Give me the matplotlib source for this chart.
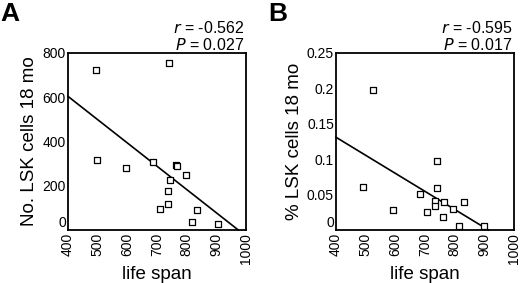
import matplotlib
matplotlib.use("Agg")
import matplotlib.pyplot as plt
import matplotlib.transforms as mtransforms
import numpy as np

plt.rcParams["font.family"] = ["Liberation Sans", "DejaVu Sans"]

# panel A: number of LSK cells at 18 mo vs life span
span_a = [494, 741, 498, 594, 688, 763, 768, 798, 744, 737, 738, 711, 836, 818, 904]
cells_a = [724, 753, 316, 282, 309, 292, 288, 250, 226, 178, 116, 95, 90, 36, 29]
fit_a_x = [400, 974]
fit_a_y = [604, 0]

# panel B: % LSK cells at 18 mo vs life span
span_b = [526, 491, 592, 683, 739, 740, 735, 735, 764, 707, 761, 796, 833, 813, 900]
pct_b = [0.198, 0.061, 0.028, 0.051, 0.098, 0.060, 0.041, 0.034, 0.040, 0.025,
         0.018, 0.030, 0.039, 0.006, 0.005]
fit_b_x = [400, 914]
fit_b_y = [0.131, 0]

xticks = [400, 500, 600, 700, 800, 900, 1000]

fig = plt.figure(figsize=(5.2, 2.83), dpi=100)
W, H = 520, 283


def panel(left, x, y, fx, fy, ylim, yticks, yticklabels, ylabel, letter, r, p):
    ax = fig.add_axes([left / W, 1 - 230 / H, 178 / W, 177 / H])
    ax.plot(fx, fy, color="black", lw=1.2, clip_on=False, zorder=2)
    ax.scatter(x, y, marker="s", s=22, facecolors="white", edgecolors="black",
               linewidths=0.9, zorder=3, clip_on=False)
    ax.set_xlim(400, 1000)
    ax.set_ylim(*ylim)
    ax.set_xticks(xticks)
    ax.set_xticklabels([str(t) for t in xticks], rotation=90, fontsize=10)
    ax.set_yticks(yticks)
    ax.set_yticklabels(yticklabels, fontsize=10)
    ax.tick_params(length=0)
    ax.tick_params(axis="x", pad=2)
    ax.tick_params(axis="y", pad=1.5)
    # lift the "0" a little so it does not sit on the "400"
    zero = ax.get_yticklabels()[0]
    zero.set_va("bottom")
    for s in ax.spines.values():
        s.set_linewidth(1.3)
    ax.set_xlabel("life span", fontsize=13.5, labelpad=2)
    ax.set_ylabel(ylabel, fontsize=13.5, labelpad=3)
    right = (left + 176) / W
    fig.text(right, 1 - 33 / H, r"$r$ = " + r, ha="right", va="baseline",
             fontsize=11.5)
    fig.text(right, 1 - 50 / H, r"$P$ = " + p, ha="right", va="baseline",
             fontsize=11.5)
    fig.text((left - 68) / W, 1 - 2 / H, letter, fontsize=19, fontweight="bold",
             ha="left", va="top")
    return ax


panel(68, span_a, cells_a, fit_a_x, fit_a_y, (0, 800), [0, 200, 400, 600, 800],
      ["0", "200", "400", "600", "800"], "No. LSK cells 18 mo", "A", "-0.562", "0.027")
panel(336, span_b, pct_b, fit_b_x, fit_b_y, (0, 0.25),
      [0, 0.05, 0.1, 0.15, 0.2, 0.25], ["0", "0.05", "0.1", "0.15", "0.2", "0.25"],
      "% LSK cells 18 mo", "B", "-0.595", "0.017")

fig.savefig("out.png", dpi=100)
